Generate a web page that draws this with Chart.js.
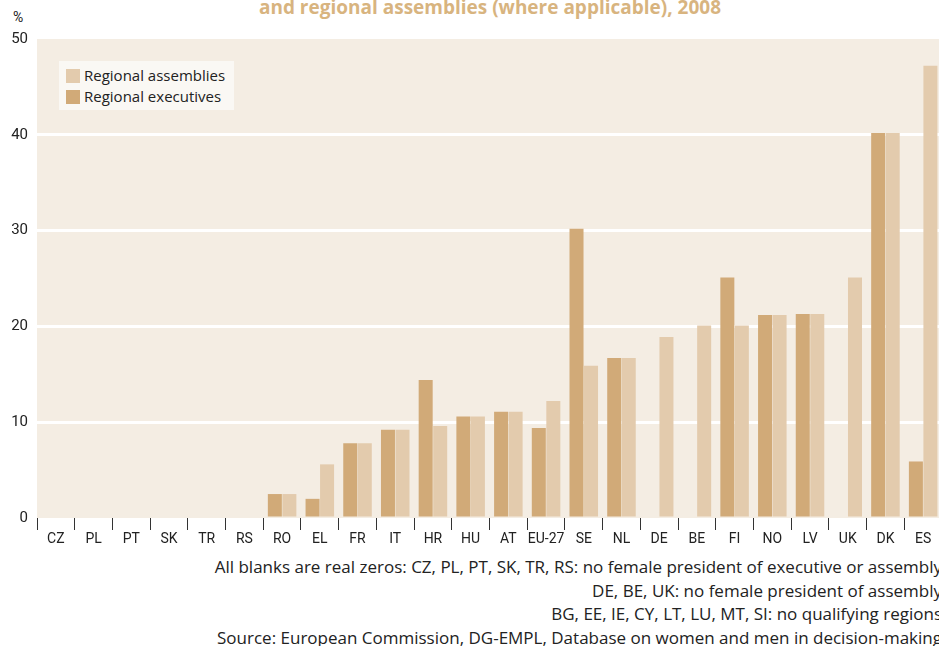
<!DOCTYPE html>
<html>
<head>
<meta charset="utf-8">
<script src="https://cdn.jsdelivr.net/npm/chart.js@4.4.1/dist/chart.umd.min.js"></script>
<style>
  html, body { margin: 0; padding: 0; background: #fff; overflow: hidden; width: 939px; height: 646px; }
  #wrap { position: relative; width: 939px; height: 646px; overflow: hidden; }
  #box { position: absolute; left: 0; top: 0; width: 945px; height: 552px; }
  #title { position: absolute; left: 0; width: 980px; top: -6px; text-align: center;
    font: bold 19px "Open Sans", sans-serif; color: #d8b47f; white-space: nowrap; }
  #pct { position: absolute; left: 13px; top: 9px; font: 14px "Roboto", sans-serif; color: #222; }
  #legend { position: absolute; left: 59px; top: 61px; width: 175px; height: 49px; background: #faf8f4;
    font: 15px "Open Sans", sans-serif; color: #222; }
  #legend div { position: relative; height: 21px; line-height: 21px; padding-left: 25px; white-space: nowrap; }
  #legend span { position: absolute; left: 7px; top: 4px; width: 14px; height: 14px; }
  #legend div:first-child { margin-top: 4px; }
  #notes { position: absolute; right: -3px; top: 555px; text-align: right; white-space: nowrap;
    font: 17px "Open Sans", sans-serif; color: #222; line-height: 23.5px; }
</style>
</head>
<body>
<div id="wrap">
  <div id="title">and regional assemblies (where applicable), 2008</div>
  <div id="pct">%</div>
  <div id="box"><canvas id="chart"></canvas></div>
  <div id="legend"></div>
  <div id="notes">
    <div>All blanks are real zeros: CZ, PL, PT, SK, TR, RS: no female president of executive or assembly</div>
    <div>DE, BE, UK: no female president of assembly</div>
    <div>BG, EE, IE, CY, LT, LU, MT, SI: no qualifying regions</div>
    <div>Source: European Commission, DG-EMPL, Database on women and men in decision-making</div>
  </div>
</div>
<script>
// data (%)
const countries = ["CZ", "PL", "PT", "SK", "TR", "RS", "RO", "EL", "FR", "IT", "HR", "HU",
  "AT", "EU-27", "SE", "NL", "DE", "BE", "FI", "NO", "LV", "UK", "DK", "ES"];
const executives = [0, 0, 0, 0, 0, 0, 2.5, 2.0, 7.8, 9.2, 14.4, 10.6,
  11.1, 9.4, 30.2, 16.7, 0, 0, 25.1, 21.2, 21.3, 0, 40.2, 5.9];
const assemblies = [0, 0, 0, 0, 0, 0, 2.5, 5.6, 7.8, 9.2, 9.6, 10.6,
  11.1, 12.2, 15.9, 16.7, 18.9, 20.1, 20.1, 21.2, 21.3, 25.1, 40.2, 47.2];
const yTicks = [0, 10, 20, 30, 40, 50];

const narrow = '"Roboto", sans-serif';

// beige plot background
const plotBg = {
  id: 'plotBg',
  beforeDraw(chart) {
    const a = chart.chartArea, ctx = chart.ctx;
    ctx.save();
    ctx.fillStyle = '#f4ede3';
    ctx.fillRect(a.left, a.top, a.right - a.left, a.bottom - a.top);
    ctx.restore();
  }
};

const chart = new Chart(document.getElementById('chart'), {
  type: 'bar',
  data: {
    labels: countries,
    datasets: [
      { label: 'Regional executives', data: executives, backgroundColor: '#d1aa78' },
      { label: 'Regional assemblies', data: assemblies, backgroundColor: '#e3cbad' }
    ]
  },
  options: {
    responsive: true,
    maintainAspectRatio: false,
    animation: false,
    categoryPercentage: 0.77,
    barPercentage: 0.965,
    layout: { padding: { top: 39, right: 3, left: 0, bottom: 0 } },
    plugins: {
      legend: { display: false },
      tooltip: { enabled: false }
    },
    scales: {
      x: {
        afterFit: axis => { axis.height = 34; },
        border: { display: false },
        grid: { offset: true, drawOnChartArea: false, drawTicks: true, tickLength: 12, color: '#333', lineWidth: 1 },
        ticks: { color: '#222', padding: 1, font: { family: narrow, size: 14 }, maxRotation: 0, autoSkip: false }
      },
      y: {
        min: 0,
        max: 50,
        afterFit: axis => { axis.width = 37; },
        afterBuildTicks: axis => { axis.ticks = yTicks.map(v => ({ value: v })); },
        border: { display: false },
        grid: {
          drawTicks: false,
          lineWidth: 3,
          color: ctx => (ctx.tick && (ctx.tick.value === 0 || ctx.tick.value === 50)) ? 'rgba(0,0,0,0)' : '#ffffff'
        },
        ticks: { color: '#222', padding: 9, font: { family: narrow, size: 15 } }
      }
    }
  },
  plugins: [plotBg]
});

// legend box, assemblies listed first
const legend = document.getElementById('legend');
chart.data.datasets.slice().reverse().forEach(ds => {
  const row = document.createElement('div');
  row.innerHTML = `<span style="background:${ds.backgroundColor}"></span>${ds.label}`;
  legend.appendChild(row);
});
</script>
</body>
</html>
